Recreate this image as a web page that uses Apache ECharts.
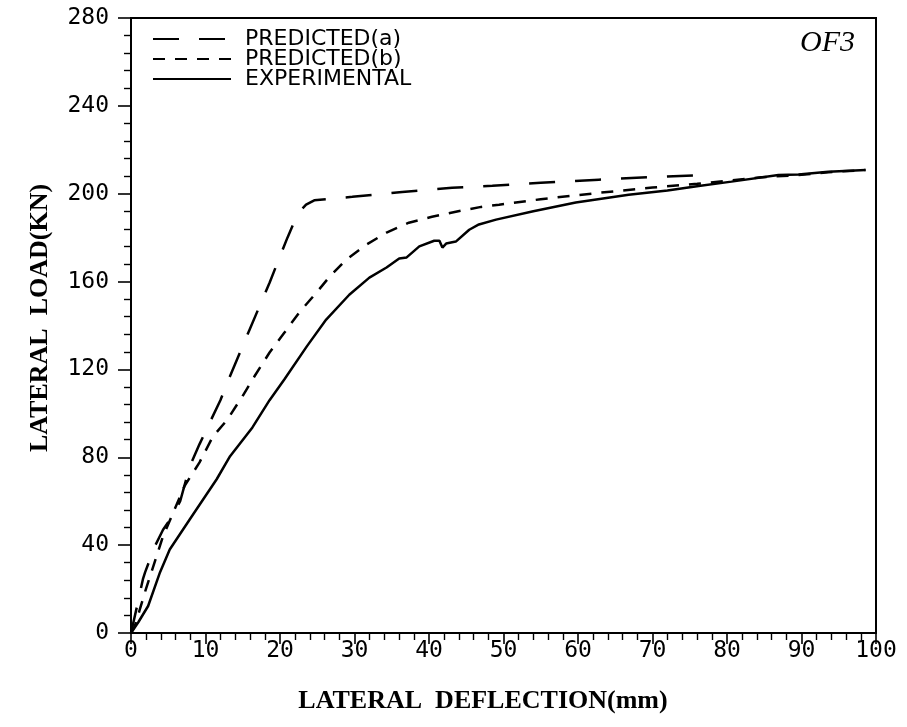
<!DOCTYPE html>
<html>
<head>
<meta charset="utf-8">
<script src="https://cdn.jsdelivr.net/npm/echarts@6/dist/echarts.min.js"></script>
<style>html,body{margin:0;padding:0;background:#fff;}#c{width:907px;height:727px;}</style>
</head>
<body>
<div id="c"></div>
<script>
var seriesNames = ['PREDICTED(a)', 'PREDICTED(b)', 'EXPERIMENTAL'];
var xTicks = [0,10,20,30,40,50,60,70,80,90,100];
var yTicks = [0,40,80,120,160,200,240,280];

var predA_x = [0, 0.8, 1.6, 1.9, 3.2, 4.3, 5.5, 6.6, 7.9, 9.2, 10.6, 12, 13.3, 15.9, 18.6, 21, 22.4, 23.5, 24.6, 29.7, 36.4, 43.1, 48.5, 55, 62.8, 70, 78];
var predA_y = [0, 12, 24.5, 27.7, 39.5, 47, 53, 60, 76, 86, 96, 106, 117, 138, 159.5, 180, 191, 195, 197, 198.6, 200.8, 202.7, 203.6, 205, 206.4, 207.6, 208.6];

var predB_x = [0, 0.5, 2, 4.3, 7.2, 9.2, 11, 12.9, 15, 16.6, 18.6, 20.6, 22.6, 24.9, 26.6, 28.9, 31.6, 34.3, 37.3, 40.4, 43.6, 47, 49.4, 55, 62.8, 70, 76, 84.6, 89.6, 93.6, 98.6];
var predB_y = [0, 3, 20, 44, 67, 77.7, 89.5, 97, 108, 117, 127.7, 136.8, 146, 155, 162, 170, 176.8, 182.3, 186.8, 189.5, 191.8, 194, 195, 197.5, 200.4, 202.8, 204.5, 207.5, 208.5, 209.8, 210.8];

var exp_x = [0, 1, 2.3, 3.9, 5.2, 7.9, 11.5, 13.3, 16.3, 18.6, 20.6, 23.6, 26.2, 29.3, 32, 34.3, 36, 37, 38.7, 40.7, 41.4, 41.8, 42.3, 43.6, 45.4, 46.7, 49, 54, 59.7, 66.8, 72, 76.2, 80.6, 86.9, 89.6, 93.6, 98.6];
var exp_y = [0, 5, 12.3, 27.7, 38, 51.8, 70, 80.5, 93.6, 106, 115.5, 130.5, 142.7, 154, 161.8, 166.4, 170.5, 171, 176, 178.6, 178.6, 175.5, 177.3, 178.2, 183.6, 186, 188.2, 192, 196, 199.5, 201.5, 203.5, 205.5, 208.5, 208.8, 210, 210.8];

function pairs(xs, ys){ return xs.map(function(x,i){ return [x, ys[i]]; }); }

var chart = echarts.init(document.getElementById('c'), null, {renderer:'canvas'});
var tickFont = {color:'#000', fontFamily:'DejaVu Sans Mono', fontSize:23};
chart.setOption({
  backgroundColor:'#fff',
  animation:false,
  grid:{left:131, right:31, top:18, bottom:94, show:true, borderColor:'#000', borderWidth:2, backgroundColor:'transparent'},
  xAxis:{
    type:'value', min:xTicks[0], max:xTicks[xTicks.length-1], interval:10,
    axisLine:{show:true, onZero:false, lineStyle:{color:'#000', width:2}},
    axisTick:{show:true, length:11, lineStyle:{color:'#000', width:1.6}},
    minorTick:{show:true, splitNumber:5, length:7, lineStyle:{color:'#000', width:1.4}},
    splitLine:{show:false},
    axisLabel:Object.assign({margin:7}, tickFont)
  },
  yAxis:{
    type:'value', min:yTicks[0], max:yTicks[yTicks.length-1], interval:40,
    axisLine:{show:true, onZero:false, lineStyle:{color:'#000', width:2}},
    axisTick:{show:true, length:13, lineStyle:{color:'#000', width:1.6}},
    minorTick:{show:true, splitNumber:5, length:7, lineStyle:{color:'#000', width:1.4}},
    splitLine:{show:false},
    axisLabel:Object.assign({margin:22}, tickFont)
  },
  legend:{
    orient:'vertical', left:147, top:23, itemWidth:78, itemHeight:14, itemGap:-2,
    data:seriesNames,
    itemStyle:{opacity:0},
    textStyle:{color:'#000', fontFamily:'DejaVu Sans', fontSize:22, lineHeight:19, padding:[0,0,0,9]}
  },
  graphic:[
    {type:'text', style:{text:'LATERAL  DEFLECTION(mm)', x:0, y:0, fill:'#000', font:'bold 26px "Liberation Serif"', textAlign:'center', textVerticalAlign:'middle'}, x:483, y:701},
    {type:'text', style:{text:'LATERAL  LOAD(KN)', x:0, y:0, fill:'#000', font:'bold 26px "Liberation Serif"', textAlign:'center', textVerticalAlign:'middle'}, x:40, y:318, rotation:Math.PI/2},
    {type:'text', style:{text:'OF3', x:0, y:0, fill:'#000', font:'italic 30px "Liberation Serif"', textAlign:'right', textVerticalAlign:'middle'}, x:855, y:43}
  ],
  series:[
    {name:seriesNames[0], type:'line', data:pairs(predA_x, predA_y), symbol:'none', smooth:false,
     lineStyle:{color:'#000', width:2.5, type:[26,20]}, itemStyle:{color:'#000'}},
    {name:seriesNames[1], type:'line', data:pairs(predB_x, predB_y), symbol:'none', smooth:false,
     lineStyle:{color:'#000', width:2.5, type:[12,10]}, itemStyle:{color:'#000'}},
    {name:seriesNames[2], type:'line', data:pairs(exp_x, exp_y), symbol:'none', smooth:false,
     lineStyle:{color:'#000', width:2.5, type:'solid'}, itemStyle:{color:'#000'}}
  ]
});
</script>
</body>
</html>
